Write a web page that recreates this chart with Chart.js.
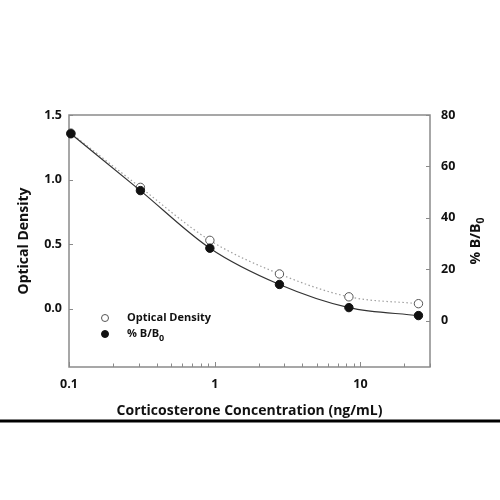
<!DOCTYPE html>
<html>
<head>
<meta charset="utf-8">
<script src="https://cdn.jsdelivr.net/npm/chart.js@4"></script>
<style>
  html, body { margin: 0; padding: 0; background: #fff; }
  #wrap { width: 500px; height: 500px; position: relative; }
</style>
</head>
<body>
<div id="wrap"><canvas id="c" width="500" height="500"></canvas></div>
<script>
// ---- data ----
const concentrations = [0.103, 0.309, 0.926, 2.78, 8.33, 25];
const opticalDensity = [1.36, 0.94, 0.53, 0.27, 0.093, 0.04];
const percentBB0 = [72.7, 50.6, 28.2, 14.1, 5.1, 2.0];

const xTickValues = [0.1,0.2,0.3,0.4,0.5,0.6,0.7,0.8,0.9,1,2,3,4,5,6,7,8,9,10,20,30];
const xLabelTicks = [0.1, 1, 10];
const yLeftTicks = [0, 0.5, 1.0, 1.5];
const yRightTicks = [0, 20, 40, 60, 80];

const FONT = "'Open Sans', 'DejaVu Sans', sans-serif";
const AXIS_COLOR = '#8a8a8a';
const TEXT_COLOR = '#111';

const odPoints = concentrations.map((x, i) => ({x, y: opticalDensity[i]}));
const bbPoints = concentrations.map((x, i) => ({x, y: percentBB0[i]}));

function setTicks(values) {
  return function(scale) { scale.ticks = values.map(v => ({value: v})); };
}

const decorPlugin = {
  id: 'decor',
  beforeDatasetsDraw(chart) {
    const {ctx, chartArea: a} = chart;
    ctx.save();
    ctx.strokeStyle = AXIS_COLOR;
    ctx.lineWidth = 1.5;
    ctx.strokeRect(a.left, a.top, a.right - a.left, a.bottom - a.top);
    ctx.lineWidth = 1;
    const x = chart.scales.x;
    x.ticks.forEach(t => {
      const px = Math.round(x.getPixelForValue(t.value)) + 0.5;
      const major = xLabelTicks.includes(t.value);
      ctx.beginPath();
      ctx.moveTo(px, a.bottom);
      ctx.lineTo(px, a.bottom - (major ? 5 : 3.5));
      ctx.stroke();
    });
    const y = chart.scales.y;
    y.ticks.forEach(t => {
      const py = Math.round(y.getPixelForValue(t.value)) + 0.5;
      ctx.beginPath();
      ctx.moveTo(a.left, py);
      ctx.lineTo(a.left + 4, py);
      ctx.stroke();
    });
    const y2 = chart.scales.y2;
    y2.ticks.forEach(t => {
      const py = Math.round(y2.getPixelForValue(t.value)) + 0.5;
      ctx.beginPath();
      ctx.moveTo(a.right, py);
      ctx.lineTo(a.right - 4, py);
      ctx.stroke();
    });
    ctx.restore();
  },
  afterDraw(chart) {
    const {ctx} = chart;
    ctx.save();
    // right axis title, reading bottom-to-top
    ctx.translate(476, 241);
    ctx.rotate(-Math.PI / 2);
    ctx.fillStyle = TEXT_COLOR;
    ctx.textBaseline = 'middle';
    const main = '% B/B';
    ctx.font = `700 14px ${FONT}`;
    const wMain = ctx.measureText(main).width;
    ctx.font = `700 10.5px ${FONT}`;
    const wSub = ctx.measureText('0').width;
    const start = -(wMain + wSub) / 2;
    ctx.font = `700 14px ${FONT}`;
    ctx.textAlign = 'left';
    ctx.fillText(main, start, 0);
    ctx.font = `700 10.5px ${FONT}`;
    ctx.fillText('0', start + wMain, 5);
    ctx.restore();

    // legend
    ctx.save();
    const ds = chart.data.datasets;
    const items = [
      {d: ds[1], y: 318, text: 'Optical Density', sub: null},
      {d: ds[0], y: 334, text: '% B/B', sub: '0'}
    ];
    items.forEach(it => {
      ctx.beginPath();
      ctx.arc(105, it.y, 3.5, 0, Math.PI * 2);
      ctx.fillStyle = it.d.pointBackgroundColor;
      ctx.fill();
      ctx.lineWidth = 1;
      ctx.strokeStyle = it.d.pointBorderColor;
      ctx.stroke();
      ctx.fillStyle = TEXT_COLOR;
      ctx.font = `700 11px ${FONT}`;
      ctx.textAlign = 'left';
      ctx.textBaseline = 'middle';
      ctx.fillText(it.text, 127, it.y);
      if (it.sub) {
        const w = ctx.measureText(it.text).width;
        ctx.font = `700 9px ${FONT}`;
        ctx.fillText(it.sub, 127 + w, it.y + 4);
      }
    });
    // bottom rule
    ctx.fillStyle = '#000';
    ctx.fillRect(0, 419.5, 500, 3);
    ctx.restore();
  }
};

new Chart(document.getElementById('c'), {
  type: 'line',
  data: {
    datasets: [
      {
        label: '% B/B0',
        data: bbPoints,
        yAxisID: 'y2',
        borderColor: '#333',
        borderWidth: 1.2,
        cubicInterpolationMode: 'monotone',
        pointRadius: 4.2,
        pointBackgroundColor: '#111',
        pointBorderColor: '#111',
        pointBorderWidth: 1,
        clip: false
      },
      {
        label: 'Optical Density',
        data: odPoints,
        yAxisID: 'y',
        borderColor: '#a0a0a0',
        borderWidth: 1.2,
        borderDash: [1.5, 2.5],
        cubicInterpolationMode: 'monotone',
        pointRadius: 4.2,
        pointBackgroundColor: '#ffffff',
        pointBorderColor: '#555',
        pointBorderWidth: 1,
        clip: false
      }
    ]
  },
  options: {
    responsive: false,
    animation: false,
    events: [],
    layout: { padding: { left: 0, right: 0, top: 115, bottom: 81 } },
    plugins: { legend: { display: false }, tooltip: { enabled: false } },
    scales: {
      x: {
        type: 'logarithmic',
        position: 'bottom',
        min: 0.1,
        max: 30,
        afterBuildTicks: setTicks(xTickValues),
        afterFit(s) { s.height = 52; },
        grid: { display: false, drawTicks: false },
        border: { display: false },
        ticks: {
          autoSkip: false,
          maxRotation: 0,
          padding: 10,
          color: TEXT_COLOR,
          font: { family: FONT, size: 12.5, weight: '700' },
          callback: (v) => xLabelTicks.includes(v) ? String(v) : ''
        },
        title: {
          display: true,
          text: 'Corticosterone Concentration (ng/mL)',
          color: TEXT_COLOR,
          padding: 0,
          font: { family: FONT, size: 14, weight: '700' }
        }
      },
      y: {
        type: 'linear',
        position: 'left',
        min: -0.45,
        max: 1.5,
        afterBuildTicks: setTicks(yLeftTicks),
        afterFit(s) { s.width = 69; },
        grid: { display: false, drawTicks: false },
        border: { display: false },
        ticks: {
          padding: 7,
          color: TEXT_COLOR,
          font: { family: FONT, size: 12.5, weight: '700' },
          callback: (v) => v.toFixed(1)
        },
        title: {
          display: true,
          text: 'Optical Density',
          color: TEXT_COLOR,
          padding: { top: 16, bottom: 0 },
          font: { family: FONT, size: 14, weight: '700' }
        }
      },
      y2: {
        type: 'linear',
        position: 'right',
        min: -18,
        max: 80,
        afterBuildTicks: setTicks(yRightTicks),
        afterFit(s) { s.width = 70; },
        grid: { display: false, drawTicks: false },
        border: { display: false },
        ticks: {
          padding: 11,
          color: TEXT_COLOR,
          font: { family: FONT, size: 12.5, weight: '700' },
          callback: (v) => String(v)
        }
      }
    }
  },
  plugins: [decorPlugin]
});
</script>
</body>
</html>
